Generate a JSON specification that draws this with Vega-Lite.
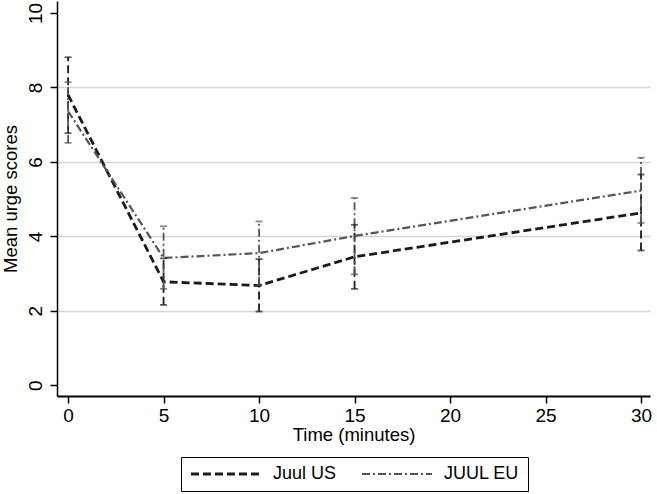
{
  "$schema": "https://vega.github.io/schema/vega-lite/v6.json",
  "width": 593,
  "height": 395,
  "autosize": {"type": "none"},
  "padding": {"left": 57, "top": 1, "right": 7, "bottom": 98},
  "background": "white",
  "config": {"view": {"stroke": null}, "font": "Liberation Sans"},
  "data": {
    "values": [
      {"series": "Juul US", "time": 0, "mean": 7.8, "lo": 6.77, "hi": 8.81},
      {"series": "Juul US", "time": 5, "mean": 2.78, "lo": 2.16, "hi": 3.41},
      {"series": "Juul US", "time": 10, "mean": 2.68, "lo": 1.98, "hi": 3.39},
      {"series": "Juul US", "time": 15, "mean": 3.45, "lo": 2.59, "hi": 4.31},
      {"series": "Juul US", "time": 30, "mean": 4.63, "lo": 3.62, "hi": 5.66},
      {"series": "JUUL EU", "time": 0, "mean": 7.36, "lo": 6.51, "hi": 8.14},
      {"series": "JUUL EU", "time": 5, "mean": 3.42, "lo": 2.59, "hi": 4.27},
      {"series": "JUUL EU", "time": 10, "mean": 3.55, "lo": 2.7, "hi": 4.4},
      {"series": "JUUL EU", "time": 15, "mean": 4.01, "lo": 2.98, "hi": 5.03},
      {"series": "JUUL EU", "time": 30, "mean": 5.23, "lo": 4.36, "hi": 6.11}
    ]
  },
  "encoding": {
    "x": {
      "field": "time",
      "type": "quantitative",
      "scale": {"domain": [-0.58, 30.47], "nice": false, "zero": false},
      "axis": {
        "values": [0, 5, 10, 15, 20, 25, 30],
        "title": "Time (minutes)",
        "grid": false,
        "domainColor": "#000",
        "domainWidth": 2,
        "tickColor": "#000",
        "tickWidth": 1.5,
        "tickSize": 7,
        "labelFontSize": 19,
        "labelColor": "#000",
        "labelPadding": 3,
        "titleFontSize": 18.5,
        "titleFontWeight": "normal",
        "titleColor": "#000",
        "titlePadding": 0
      }
    }
  },
  "layer": [
    {
      "mark": {"type": "line", "strokeCap": "butt"},
      "encoding": {
        "y": {
          "field": "mean",
          "type": "quantitative",
          "scale": {"domain": [-0.287, 10.32], "nice": false, "zero": false},
          "axis": {
            "values": [0, 2, 4, 6, 8, 10],
            "title": "Mean urge scores",
            "grid": true,
            "gridColor": {"condition": {"test": "datum.value == 0 || datum.value == 10", "value": "transparent"}, "value": "#d4d4d4"},
            "gridWidth": 1.5,
            "domainColor": "#000",
            "domainWidth": 1.5,
            "tickColor": "#000",
            "tickWidth": 1.5,
            "tickSize": 7,
            "labelAngle": 270,
            "labelFontSize": 19,
            "labelColor": "#000",
            "labelPadding": 5,
            "titleFontSize": 18.5,
            "titleFontWeight": "normal",
            "titleColor": "#000",
            "titlePadding": 6
          }
        },
        "stroke": {
          "field": "series",
          "type": "nominal",
          "scale": {"domain": ["Juul US", "JUUL EU"], "range": ["#1a1a1a", "#555555"]},
          "legend": {
            "title": null,
            "orient": "none",
            "legendX": 124,
            "legendY": 456,
            "direction": "horizontal",
            "strokeColor": "#000",
            "padding": 8,
            "symbolType": "M-1,0H9",
            "symbolSize": 196,
            "symbolStrokeWidth": 2.5,
            "symbolFillColor": "transparent",
            "labelFontSize": 18,
            "labelColor": "#000",
            "labelOffset": 66,
            "columnPadding": 20
          }
        },
        "strokeDash": {
          "field": "series",
          "type": "nominal",
          "scale": {"domain": ["Juul US", "JUUL EU"], "range": [[8, 4], [8, 3, 2, 3]]},
          "legend": {
            "title": null,
            "orient": "none",
            "legendX": 124,
            "legendY": 456,
            "direction": "horizontal",
            "strokeColor": "#000",
            "padding": 8,
            "symbolType": "M-1,0H9",
            "symbolSize": 196,
            "symbolStrokeWidth": 2.5,
            "symbolFillColor": "transparent",
            "labelFontSize": 18,
            "labelColor": "#000",
            "labelOffset": 66,
            "columnPadding": 20
          }
        },
        "strokeWidth": {
          "field": "series",
          "type": "nominal",
          "scale": {"domain": ["Juul US", "JUUL EU"], "range": [2.8, 2.2]},
          "legend": null
        }
      }
    },
    {
      "mark": {"type": "rule", "strokeCap": "butt", "strokeWidth": 1.8},
      "encoding": {
        "y": {"field": "lo", "type": "quantitative"},
        "y2": {"field": "hi"},
        "stroke": {"field": "series", "type": "nominal"},
        "strokeDash": {"field": "series", "type": "nominal"}
      }
    },
    {
      "mark": {"type": "tick", "orient": "horizontal", "size": 7, "thickness": 1.8},
      "encoding": {
        "y": {"field": "lo", "type": "quantitative"},
        "color": {"field": "series", "type": "nominal", "scale": {"domain": ["Juul US", "JUUL EU"], "range": ["#1a1a1a", "#555555"]}, "legend": null}
      }
    },
    {
      "mark": {"type": "tick", "orient": "horizontal", "size": 7, "thickness": 1.8},
      "encoding": {
        "y": {"field": "hi", "type": "quantitative"},
        "color": {"field": "series", "type": "nominal", "legend": null}
      }
    }
  ]
}
